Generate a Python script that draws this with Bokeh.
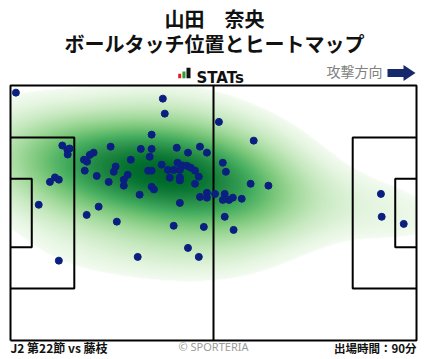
import numpy as np
from bokeh.plotting import figure
from bokeh.models import Label, Range1d
from bokeh.embed import file_html
from bokeh.resources import INLINE
from bokeh.palettes import Greens256

# ---- data: ball touches in metres (x: 0-105, attacking to the right; y: 0-68, bottom to top)
touch_x = [1.4, 39.4, 39.9, 36.5, 13.4, 14.7, 15.3, 14.8, 21.5, 20.5, 25.9, 33.7, 36.5, 43.0,
           45.9, 49.0, 50.8, 19.0, 19.8, 31.1, 36.0, 39.1, 43.2, 44.4, 45.6, 46.6, 47.7, 40.7,
           42.2, 43.8, 27.2, 26.7, 19.2, 35.6, 36.5, 22.3, 30.3, 41.2, 43.8, 43.8, 48.7, 29.3,
           25.4, 47.7, 29.3, 36.5, 37.1, 11.5, 12.5, 10.2, 33.4, 50.8, 49.0, 50.8, 43.8, 7.3,
           22.8, 53.9, 62.9, 54.9, 55.7, 62.1, 66.7, 52.9, 55.4, 54.9, 56.5, 57.5, 59.8, 95.8,
           19.7, 27.5, 42.2, 50.0, 45.9, 48.7, 32.9, 12.5, 55.4, 57.7, 96.0, 101.7]
touch_y = [66.1, 64.5, 60.5, 54.9, 52.0, 50.9, 51.2, 49.6, 50.1, 49.5, 51.7, 51.1, 51.1, 51.4,
           50.1, 51.7, 50.1, 48.2, 47.7, 48.2, 49.0, 46.9, 47.4, 46.7, 46.6, 46.1, 45.3, 45.5,
           45.5, 45.5, 46.4, 45.0, 45.3, 45.3, 45.3, 43.9, 44.2, 43.4, 43.5, 42.7, 43.7, 42.9,
           42.3, 41.8, 41.3, 41.0, 40.3, 43.5, 42.9, 42.3, 38.9, 39.4, 38.3, 38.1, 36.7, 36.2,
           35.7, 58.3, 53.3, 47.4, 45.0, 41.8, 41.3, 39.1, 39.1, 37.5, 37.5, 38.1, 37.8, 39.1,
           33.5, 31.7, 30.6, 30.3, 24.7, 22.3, 22.3, 21.3, 33.0, 29.5, 33.0, 31.1]

title_name = "山田　奈央"
title_sub = "ボールタッチ位置とヒートマップ"
brand_text = "STATs"
direction_text = "攻撃方向"
match_text = "J2 第22節 vs 藤枝"
copyright_text = "© SPORTERIA"
minutes_text = "出場時間：90分"

PITCH_L, PITCH_W = 105.0, 68.0
BOX_D, BOX_W = 16.5, 40.32
GOAL_D, GOAL_W = 5.5, 18.32

# ---- layout (pixels inside the figure)
W, H = 428, 359
PX0, PX1 = 10, 416
PY0, PY1 = 85, 340
sx = (PX1 - PX0) / PITCH_L
sy = (PY1 - PY0) / PITCH_W
x_start = -PX0 / sx
x_end = PITCH_L + (W - PX1) / sx
y_start = -(H - PY1) / sy
y_end = PITCH_W + PY0 / sy


def dx(px):
    return x_start + px / sx


def dy(py):
    return y_end - py / sy


p = figure(width=W, height=H, x_range=Range1d(x_start, x_end), y_range=Range1d(y_start, y_end),
           output_backend="svg", toolbar_location=None, min_border=0,
           x_axis_location=None, y_axis_location=None)
p.grid.visible = False
p.outline_line_color = None
p.background_fill_color = "white"
p.border_fill_color = "white"

# ---- KDE heatmap from the touches
pts = np.vstack([touch_x, touch_y])
n = pts.shape[1]
factor = 1.7 * n ** (-1.0 / 6.0)
cov = np.cov(pts) * factor ** 2
inv = np.linalg.inv(cov)
norm = 1.0 / (2 * np.pi * np.sqrt(np.linalg.det(cov)) * n)


def kde(gx, gy):
    out = np.zeros(gx.shape)
    for i in range(n):
        ddx = gx - pts[0, i]
        ddy = gy - pts[1, i]
        q = inv[0, 0] * ddx * ddx + 2 * inv[0, 1] * ddx * ddy + inv[1, 1] * ddy * ddy
        out += np.exp(-0.5 * q)
    return out * norm


bw = factor * pts.std(axis=1, ddof=1)
ex = np.linspace(pts[0].min() - 3 * bw[0], pts[0].max() + 3 * bw[0], 300)
ey = np.linspace(pts[1].min() - 3 * bw[1], pts[1].max() + 3 * bw[1], 300)
EX, EY = np.meshgrid(ex, ey)
ez = kde(EX, EY).ravel()
sv = np.sort(ez)[::-1]
cum = np.cumsum(sv) / sv.sum()
level = sv[min(np.searchsorted(cum, 1 - 0.07), len(sv) - 1)]

nx, ny = 406, 255
gx = (np.arange(nx) + 0.5) * PITCH_L / nx
gy = (np.arange(ny) + 0.5) * PITCH_W / ny
GX, GY = np.meshgrid(gx, gy)
Z = kde(GX, GY)
t = np.clip((Z - level) / (Z.max() - level), 0, 1) ** 0.6

pal = list(Greens256)


def lum(h):
    return int(h[1:3], 16) + int(h[3:5], 16) + int(h[5:7], 16)


if lum(pal[0]) < lum(pal[-1]):
    pal = pal[::-1]  # light -> dark
rgb = np.array([[int(h[1:3], 16), int(h[3:5], 16), int(h[5:7], 16)] for h in pal], dtype=np.uint8)
idx = np.clip((t * 0.9 * (len(pal) - 1)).astype(int), 0, len(pal) - 1)
img = np.zeros((ny, nx), dtype=np.uint32)
view = img.view(dtype=np.uint8).reshape((ny, nx, 4))
view[..., 0] = rgb[idx, 0]
view[..., 1] = rgb[idx, 1]
view[..., 2] = rgb[idx, 2]
view[..., 3] = np.where(Z >= level, 255, 0).astype(np.uint8)
p.image_rgba(image=[img], x=0, y=0, dw=PITCH_L, dh=PITCH_W)

# ---- pitch lines
bl = (PITCH_W - BOX_W) / 2
gl = (PITCH_W - GOAL_W) / 2
lines_x = [
    [0, PITCH_L, PITCH_L, 0, 0],
    [PITCH_L / 2, PITCH_L / 2],
    [0, BOX_D, BOX_D, 0],
    [0, GOAL_D, GOAL_D, 0],
    [PITCH_L, PITCH_L - BOX_D, PITCH_L - BOX_D, PITCH_L],
    [PITCH_L, PITCH_L - GOAL_D, PITCH_L - GOAL_D, PITCH_L],
]
lines_y = [
    [0, 0, PITCH_W, PITCH_W, 0],
    [0, PITCH_W],
    [bl, bl, PITCH_W - bl, PITCH_W - bl],
    [gl, gl, PITCH_W - gl, PITCH_W - gl],
    [bl, bl, PITCH_W - bl, PITCH_W - bl],
    [gl, gl, PITCH_W - gl, PITCH_W - gl],
]
p.multi_line(lines_x, lines_y, line_color="black", line_width=2)

# ---- touches
p.scatter(touch_x, touch_y, size=7, fill_color="#0a1f7f", line_color="#0a1f7f")

# ---- header
JP = "Noto Sans CJK JP"


def lab(text, x, y, size, color="#111111", style="bold", align="center", font=JP, baseline="middle"):
    p.add_layout(Label(x=x, y=H - y, x_units="screen", y_units="screen", text=text,
                       text_font=font, text_font_size=size, text_font_style=style,
                       text_color=color, text_align=align, text_baseline=baseline))


lab(title_name, 214, 18, "20px")
lab(title_sub, 214, 43, "20px")

# STATs logo bars
bar_l = [177.7, 181.9, 186.0]
bar_r = [180.7, 185.0, 190.0]
bar_t = [73.3, 71.0, 67.3]
bar_c = ["#e02020", "#2a9d3a", "#111111"]
p.quad(left=[dx(v) for v in bar_l], right=[dx(v) for v in bar_r],
       top=[dy(v) for v in bar_t], bottom=[dy(77.7)] * 3, fill_color=bar_c, line_color=None)
lab(brand_text, 196, 77.7, "15px", align="left", font="DejaVu Sans", baseline="alphabetic")

lab(direction_text, 326, 70, "14px", color="#808080", style="normal", align="left")
arrow_px = [387, 403, 403, 415, 403, 403, 387]
arrow_py = [68.5, 68.5, 64.5, 72.5, 80.5, 76.5, 76.5]
p.patch([dx(v) for v in arrow_px], [dy(v) for v in arrow_py], fill_color="#17286b", line_color=None)

# ---- footer
lab(match_text, 10, 347, "12px", align="left")
lab(copyright_text, 213, 346, "11px", color="#9a9a9a", style="normal", font="Noto Sans")
lab(minutes_text, 416, 347, "11.5px", align="right")

open("out.html", "w").write(file_html(p, INLINE))
